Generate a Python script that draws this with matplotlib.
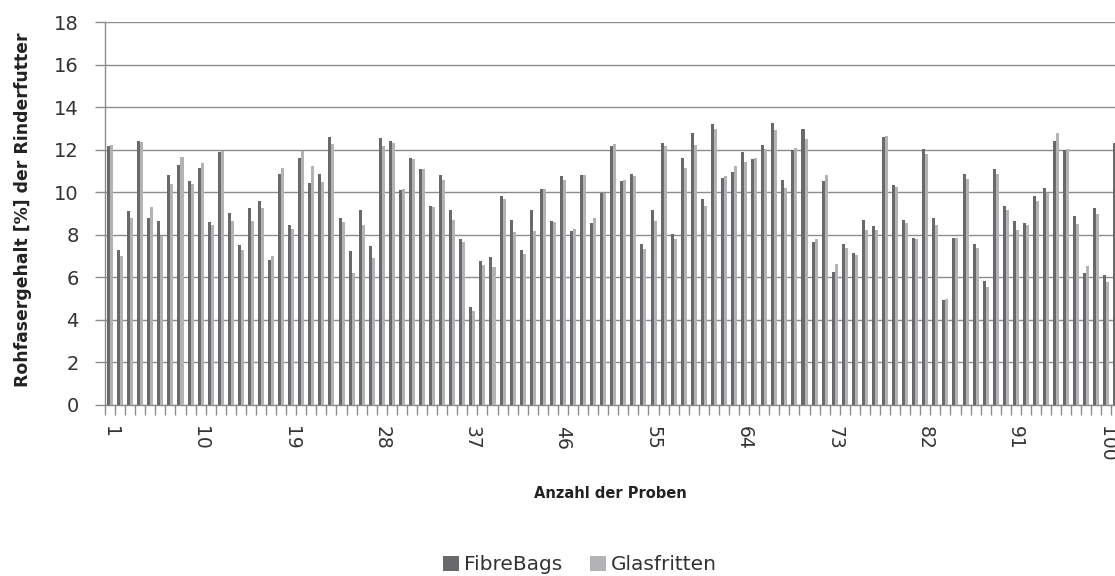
import numpy as np
import matplotlib
matplotlib.use('Agg')
import matplotlib.pyplot as plt

# Probennummern 1..101 (die letzte Probe ist am rechten Rand abgeschnitten)
samples = list(range(1, 102))

fibrebags = [
    12.15, 7.29, 9.10, 12.40, 8.80, 8.67, 10.80, 11.28, 10.52, 11.16,
    8.60, 11.87, 9.04, 7.50, 9.25, 9.58, 6.80, 10.85, 8.45, 11.60,
    10.42, 10.85, 12.60, 8.78, 7.24, 9.15, 7.46, 12.54, 12.43, 10.10,
    11.60, 11.07, 9.37, 10.80, 9.15, 7.79, 4.62, 6.76, 6.97, 9.80,
    8.71, 7.30, 9.15, 10.14, 8.67, 10.74, 8.17, 10.80, 8.56, 9.94,
    12.15, 10.52, 10.85, 7.57, 9.15, 12.32, 8.06, 11.60, 12.80, 9.70,
    13.20, 10.67, 10.96, 11.87, 11.55, 12.21, 13.24, 10.56, 11.97, 12.98,
    7.68, 10.52, 6.27, 7.57, 7.13, 8.71, 8.39, 12.60, 10.34, 8.71,
    7.84, 12.04, 8.81, 4.95, 7.84, 10.85, 7.57, 5.82, 11.07, 9.37,
    8.67, 8.56, 9.80, 10.19, 12.43, 11.97, 8.87, 6.20, 9.25, 6.10,
    12.32,
]

glasfritten = [
    12.20, 7.00, 8.80, 12.37, 9.30, 7.95, 10.40, 11.66, 10.40, 11.38,
    8.45, 11.94, 8.65, 7.29, 8.65, 9.25, 7.00, 11.16, 8.29, 11.94,
    11.24, 10.49, 12.26, 8.60, 6.20, 8.45, 6.93, 12.16, 12.32, 10.14,
    11.55, 11.07, 9.31, 10.56, 8.68, 7.68, 4.40, 6.58, 6.49, 9.70,
    8.12, 7.08, 8.17, 10.14, 8.60, 10.56, 8.29, 10.80, 8.78, 9.94,
    12.26, 10.56, 10.74, 7.35, 8.65, 12.16, 7.79, 11.16, 12.21, 9.36,
    12.98, 10.74, 11.24, 11.44, 11.60, 12.04, 12.92, 10.19, 12.08, 12.48,
    7.79, 10.80, 6.65, 7.40, 7.07, 8.23, 8.23, 12.65, 10.25, 8.56,
    7.79, 11.79, 8.45, 5.00, 7.84, 10.63, 7.40, 5.55, 10.85, 9.15,
    8.23, 8.45, 9.60, 9.98, 12.76, 12.04, 8.50, 6.52, 8.98, 5.77,
    12.20,
]

tick_labels = [str(n) for n in range(1, 101, 9)]

dark_color = '#69696c'
light_color = '#b3b3b6'
axis_color = '#8c8c8c'
text_color = '#333333'

plt.rcParams['font.family'] = ['DejaVu Sans']

fig = plt.figure(figsize=(11.15, 5.76), dpi=100)
ax = fig.add_axes([105 / 1115, 1 - 405 / 576, 1 - 105 / 1115, (405 - 22) / 576])

x = np.array(samples)
bar_w = 0.3
ax.bar(x - bar_w / 2, fibrebags, width=bar_w, color=dark_color,
       label='FibreBags', zorder=3)
ax.bar(x + bar_w / 2, glasfritten, width=bar_w, color=light_color,
       label='Glasfritten', zorder=3)

ax.set_xlim(0.5, 100.85)
ax.set_ylim(0, 18)
ax.set_yticks(range(0, 19, 2))
ax.yaxis.grid(True, color=axis_color, linewidth=1.0, zorder=0)

# Haupt-Ticks zwischen den Kategorien, Beschriftung jede 9. Probe
ax.set_xticks(np.arange(0.5, 101, 1.0))
ax.set_xticklabels([])
ax.set_xticks(range(1, 101, 9), minor=True)
ax.set_xticklabels(tick_labels, minor=True, rotation=-90, fontsize=13.5,
                   color=text_color)
ax.tick_params(axis='x', which='major', length=7, color=axis_color, width=1)
ax.tick_params(axis='x', which='minor', length=0, pad=15)
ax.tick_params(axis='y', length=7, color=axis_color, width=1,
               labelsize=14, labelcolor=text_color, pad=12)

for side in ['top', 'right']:
    ax.spines[side].set_visible(False)
for side in ['left', 'bottom']:
    ax.spines[side].set_color(axis_color)
    ax.spines[side].set_linewidth(1.0)

fig.text(23 / 1115, 1 - 210 / 576, 'Rohfasergehalt [%] der Rinderfutter',
         rotation=90, ha='center', va='center', fontsize=12.4,
         fontweight='bold', color='#222222')
fig.text(610 / 1115, 1 - 494 / 576, 'Anzahl der Proben', ha='center',
         va='center', fontsize=10.5, fontweight='bold', color='#222222')

fig.legend(loc='center', bbox_to_anchor=(580 / 1115, 1 - 565 / 576),
           ncol=2, frameon=False, fontsize=14.5, handlelength=0.8,
           handleheight=0.7, handletextpad=0.25, columnspacing=1.4,
           labelcolor=text_color, borderpad=0.1)

fig.savefig('out.png', dpi=100)
